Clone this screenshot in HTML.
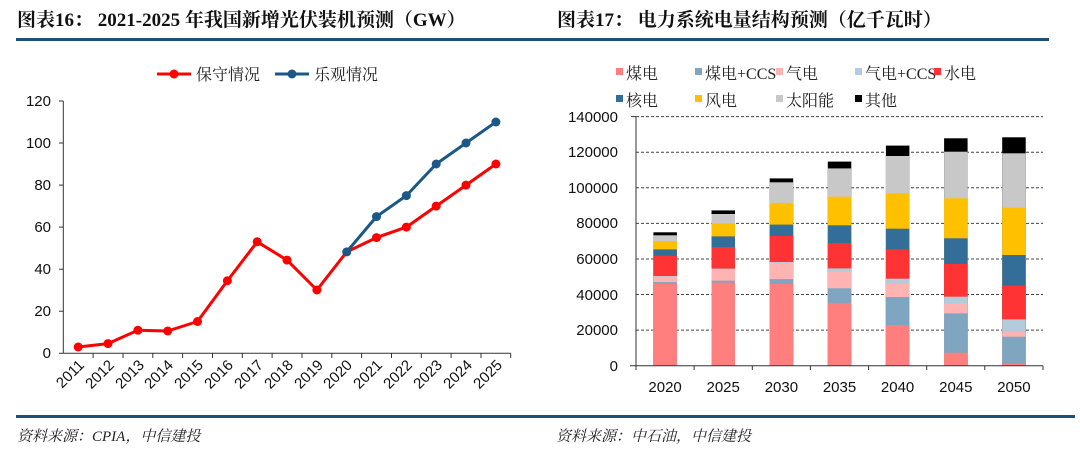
<!DOCTYPE html>
<html><head><meta charset="utf-8"><style>
body{margin:0;background:#fff;width:1080px;height:451px;overflow:hidden}
svg{display:block}
.t{font-family:"Liberation Serif","Noto Serif CJK SC",serif;font-weight:bold;font-size:19px;fill:#111}
.a{font-family:"Liberation Sans","Noto Sans CJK SC",sans-serif;font-size:15px;fill:#111}
.l{font-family:"Liberation Serif","Noto Serif CJK SC",serif;font-size:16px;fill:#222}
.f{font-family:"Liberation Serif","Noto Serif CJK SC",serif;font-style:italic;font-size:15px;fill:#222}
</style></head><body>
<svg width="1080" height="451" viewBox="0 0 1080 451">
<text class="t" x="17" y="26">图表16：  2021-2025 年我国新增光伏装机预测（GW）</text>
<text class="t" x="557" y="26">图表17：  电力系统电量结构预测（亿千瓦时）</text>
<rect x="16" y="38" width="524" height="3" fill="#1F4E79"/>
<rect x="540" y="38" width="509" height="3" fill="#1F4E79"/>
<rect x="16" y="415" width="1059" height="3" fill="#1F4E79"/>
<text class="f" x="17" y="441">资料来源：CPIA，中信建投</text>
<text class="f" x="556" y="441">资料来源：中石油，中信建投</text>

<line x1="157" y1="74" x2="191" y2="74" stroke="#f00" stroke-width="3"/><circle cx="174" cy="74" r="4.5" fill="#f00"/>
<text class="l" x="196" y="80">保守情况</text>
<line x1="275" y1="74" x2="309" y2="74" stroke="#1B5886" stroke-width="3"/><circle cx="292" cy="74" r="4.5" fill="#1B5886"/>
<text class="l" x="314" y="80">乐观情况</text>

<g stroke="#333" stroke-width="1">
<line x1="63.3" y1="101" x2="63.3" y2="353.3"/>
<line x1="59" y1="101" x2="63.3" y2="101"/><line x1="59" y1="143" x2="63.3" y2="143"/><line x1="59" y1="185.1" x2="63.3" y2="185.1"/><line x1="59" y1="227.1" x2="63.3" y2="227.1"/><line x1="59" y1="269.2" x2="63.3" y2="269.2"/><line x1="59" y1="311.2" x2="63.3" y2="311.2"/><line x1="59" y1="353.3" x2="63.3" y2="353.3"/>
<line x1="63.3" y1="353.3" x2="510.7" y2="353.3"/>
<line x1="93.1" y1="353.3" x2="93.1" y2="358"/><line x1="123" y1="353.3" x2="123" y2="358"/><line x1="152.8" y1="353.3" x2="152.8" y2="358"/><line x1="182.6" y1="353.3" x2="182.6" y2="358"/><line x1="212.5" y1="353.3" x2="212.5" y2="358"/><line x1="242.3" y1="353.3" x2="242.3" y2="358"/><line x1="272.1" y1="353.3" x2="272.1" y2="358"/><line x1="302" y1="353.3" x2="302" y2="358"/><line x1="331.8" y1="353.3" x2="331.8" y2="358"/><line x1="361.6" y1="353.3" x2="361.6" y2="358"/><line x1="391.5" y1="353.3" x2="391.5" y2="358"/><line x1="421.3" y1="353.3" x2="421.3" y2="358"/><line x1="451.1" y1="353.3" x2="451.1" y2="358"/><line x1="481" y1="353.3" x2="481" y2="358"/><line x1="510.7" y1="353.3" x2="510.7" y2="358"/>
</g>
<g class="a" text-anchor="end">
<text x="51" y="106">120</text><text x="51" y="148">100</text><text x="51" y="190">80</text><text x="51" y="232">60</text><text x="51" y="274">40</text><text x="51" y="316">20</text><text x="51" y="358">0</text>
</g>
<g class="a" text-anchor="end">
<text transform="translate(85,366) rotate(-45)">2011</text>
<text transform="translate(115,366) rotate(-45)">2012</text>
<text transform="translate(145,366) rotate(-45)">2013</text>
<text transform="translate(174,366) rotate(-45)">2014</text>
<text transform="translate(204,366) rotate(-45)">2015</text>
<text transform="translate(234,366) rotate(-45)">2016</text>
<text transform="translate(264,366) rotate(-45)">2017</text>
<text transform="translate(294,366) rotate(-45)">2018</text>
<text transform="translate(324,366) rotate(-45)">2019</text>
<text transform="translate(353,366) rotate(-45)">2020</text>
<text transform="translate(383,366) rotate(-45)">2021</text>
<text transform="translate(413,366) rotate(-45)">2022</text>
<text transform="translate(443,366) rotate(-45)">2023</text>
<text transform="translate(473,366) rotate(-45)">2024</text>
<text transform="translate(503,366) rotate(-45)">2025</text>
</g>
<polyline fill="none" stroke="#f00" stroke-width="3" stroke-linejoin="round" points="78.2,347 108,343.6 137.9,330.2 167.7,331 197.5,321.5 227.4,280.7 257.2,241.8 287,260.1 316.9,290 346.7,251.9 376.5,237.6 406.4,227.1 436.2,206.1 466,185.1 495.9,164"/>
<g fill="#f00"><circle cx="78.2" cy="347" r="4.5"/><circle cx="108" cy="343.6" r="4.5"/><circle cx="137.9" cy="330.2" r="4.5"/><circle cx="167.7" cy="331" r="4.5"/><circle cx="197.5" cy="321.5" r="4.5"/><circle cx="227.4" cy="280.7" r="4.5"/><circle cx="257.2" cy="241.8" r="4.5"/><circle cx="287" cy="260.1" r="4.5"/><circle cx="316.9" cy="290" r="4.5"/><circle cx="376.5" cy="237.6" r="4.5"/><circle cx="406.4" cy="227.1" r="4.5"/><circle cx="436.2" cy="206.1" r="4.5"/><circle cx="466" cy="185.1" r="4.5"/><circle cx="495.9" cy="164" r="4.5"/></g>
<polyline fill="none" stroke="#1B5886" stroke-width="3" stroke-linejoin="round" points="346.7,251.9 376.5,216.6 406.4,195.6 436.2,164 466,143 495.9,122"/>
<g fill="#1B5886"><circle cx="346.7" cy="251.9" r="4.5"/><circle cx="376.5" cy="216.6" r="4.5"/><circle cx="406.4" cy="195.6" r="4.5"/><circle cx="436.2" cy="164" r="4.5"/><circle cx="466" cy="143" r="4.5"/><circle cx="495.9" cy="122" r="4.5"/></g>

<g class="l">
<rect x="616" y="68" width="7" height="7" fill="#FF7F7F"/><text x="626" y="79">煤电</text>
<rect x="695" y="68" width="7" height="7" fill="#7FA5C0"/><text x="705" y="79">煤电+CCS</text>
<rect x="776" y="68" width="7" height="7" fill="#FFB3B3"/><text x="786" y="79">气电</text>
<rect x="855" y="68" width="7" height="7" fill="#B3CCDB"/><text x="865" y="79">气电+CCS</text>
<rect x="934" y="68" width="7" height="7" fill="#FF3333"/><text x="944" y="79">水电</text>
<rect x="616" y="95" width="7" height="7" fill="#336E99"/><text x="626" y="106">核电</text>
<rect x="695" y="95" width="7" height="7" fill="#FFC000"/><text x="705" y="106">风电</text>
<rect x="776" y="95" width="7" height="7" fill="#C8C8C8"/><text x="786" y="106">太阳能</text>
<rect x="855" y="95" width="7" height="7" fill="#000"/><text x="865" y="106">其他</text>
</g>
<g stroke="#444" stroke-width="1" stroke-dasharray="3,2">
<line x1="636" y1="116.6" x2="1043" y2="116.6"/><line x1="636" y1="152.2" x2="1043" y2="152.2"/><line x1="636" y1="187.8" x2="1043" y2="187.8"/><line x1="636" y1="223.4" x2="1043" y2="223.4"/><line x1="636" y1="259" x2="1043" y2="259"/><line x1="636" y1="294.5" x2="1043" y2="294.5"/><line x1="636" y1="330.1" x2="1043" y2="330.1"/>
</g>
<g class="a" text-anchor="end">
<text x="618" y="122">140000</text><text x="618" y="157">120000</text><text x="618" y="193">100000</text><text x="618" y="228">80000</text><text x="618" y="264">60000</text><text x="618" y="300">40000</text><text x="618" y="335">20000</text><text x="618" y="371">0</text>
</g>
<g>
<g transform="translate(653.4,0)">
<rect y="232.3" width="23.5" height="133.4" fill="#000"/><rect y="235.3" width="23.5" height="130.4" fill="#C8C8C8"/><rect y="241" width="23.5" height="124.7" fill="#FFC000"/><rect y="249.4" width="23.5" height="116.3" fill="#336E99"/><rect y="255.8" width="23.5" height="109.9" fill="#FF3333"/><rect y="276" width="23.5" height="89.7" fill="#B3CCDB"/><rect y="276.7" width="23.5" height="89" fill="#FFB3B3"/><rect y="282.1" width="23.5" height="83.6" fill="#7FA5C0"/><rect y="284" width="23.5" height="81.7" fill="#FF7F7F"/>
</g>
<g transform="translate(711.5,0)">
<rect y="210.4" width="23.5" height="155.3" fill="#000"/><rect y="214" width="23.5" height="151.7" fill="#C8C8C8"/><rect y="223.4" width="23.5" height="142.3" fill="#FFC000"/><rect y="236.4" width="23.5" height="129.3" fill="#336E99"/><rect y="247" width="23.5" height="118.7" fill="#FF3333"/><rect y="268.6" width="23.5" height="97.1" fill="#B3CCDB"/><rect y="269.1" width="23.5" height="96.6" fill="#FFB3B3"/><rect y="280.7" width="23.5" height="85" fill="#7FA5C0"/><rect y="282.6" width="23.5" height="83.1" fill="#FF7F7F"/>
</g>
<g transform="translate(769.7,0)">
<rect y="178.4" width="23.5" height="187.3" fill="#000"/><rect y="182.3" width="23.5" height="183.4" fill="#C8C8C8"/><rect y="202.9" width="23.5" height="162.8" fill="#FFC000"/><rect y="224.6" width="23.5" height="141.1" fill="#336E99"/><rect y="236" width="23.5" height="129.7" fill="#FF3333"/><rect y="262" width="23.5" height="103.7" fill="#B3CCDB"/><rect y="262.7" width="23.5" height="103" fill="#FFB3B3"/><rect y="279.1" width="23.5" height="86.6" fill="#7FA5C0"/><rect y="284" width="23.5" height="81.7" fill="#FF7F7F"/>
</g>
<g transform="translate(827.8,0)">
<rect y="161.6" width="23.5" height="204.1" fill="#000"/><rect y="168.4" width="23.5" height="197.3" fill="#C8C8C8"/><rect y="196.7" width="23.5" height="169" fill="#FFC000"/><rect y="225.3" width="23.5" height="140.4" fill="#336E99"/><rect y="243" width="23.5" height="122.7" fill="#FF3333"/><rect y="268.4" width="23.5" height="97.3" fill="#B3CCDB"/><rect y="271.9" width="23.5" height="93.8" fill="#FFB3B3"/><rect y="288.3" width="23.5" height="77.4" fill="#7FA5C0"/><rect y="303.4" width="23.5" height="62.3" fill="#FF7F7F"/>
</g>
<g transform="translate(885.9,0)">
<rect y="145.6" width="23.5" height="220.1" fill="#000"/><rect y="156" width="23.5" height="209.7" fill="#C8C8C8"/><rect y="193.3" width="23.5" height="172.4" fill="#FFC000"/><rect y="228.7" width="23.5" height="137" fill="#336E99"/><rect y="249.4" width="23.5" height="116.3" fill="#FF3333"/><rect y="278.7" width="23.5" height="87" fill="#B3CCDB"/><rect y="284" width="23.5" height="81.7" fill="#FFB3B3"/><rect y="297" width="23.5" height="68.7" fill="#7FA5C0"/><rect y="325" width="23.5" height="40.7" fill="#FF7F7F"/>
</g>
<g transform="translate(944.1,0)">
<rect y="138.3" width="23.5" height="227.4" fill="#000"/><rect y="151.7" width="23.5" height="214" fill="#C8C8C8"/><rect y="198.3" width="23.5" height="167.4" fill="#FFC000"/><rect y="238.3" width="23.5" height="127.4" fill="#336E99"/><rect y="263.9" width="23.5" height="101.8" fill="#FF3333"/><rect y="296.7" width="23.5" height="69" fill="#B3CCDB"/><rect y="303.4" width="23.5" height="62.3" fill="#FFB3B3"/><rect y="313.4" width="23.5" height="52.3" fill="#7FA5C0"/><rect y="352.7" width="23.5" height="13" fill="#FF7F7F"/>
</g>
<g transform="translate(1002.2,0)">
<rect y="137.3" width="23.5" height="228.4" fill="#000"/><rect y="153.3" width="23.5" height="212.4" fill="#C8C8C8"/><rect y="207.7" width="23.5" height="158" fill="#FFC000"/><rect y="255" width="23.5" height="110.7" fill="#336E99"/><rect y="285.6" width="23.5" height="80.1" fill="#FF3333"/><rect y="319.4" width="23.5" height="46.3" fill="#B3CCDB"/><rect y="331.7" width="23.5" height="34" fill="#FFB3B3"/><rect y="336.7" width="23.5" height="29" fill="#7FA5C0"/><rect y="363.7" width="23.5" height="2" fill="#FF7F7F"/>
</g>
</g>
<g stroke="#333" stroke-width="1">
<line x1="636" y1="116.6" x2="636" y2="365.7"/>
<line x1="631" y1="116.6" x2="636" y2="116.6"/>
<line x1="630" y1="365.7" x2="1043" y2="365.7"/>
<line x1="636" y1="365.7" x2="636" y2="370"/><line x1="694.1" y1="365.7" x2="694.1" y2="370"/><line x1="752.3" y1="365.7" x2="752.3" y2="370"/><line x1="810.4" y1="365.7" x2="810.4" y2="370"/><line x1="868.6" y1="365.7" x2="868.6" y2="370"/><line x1="926.7" y1="365.7" x2="926.7" y2="370"/><line x1="984.8" y1="365.7" x2="984.8" y2="370"/><line x1="1043" y1="365.7" x2="1043" y2="370"/>
</g>
<g class="a" text-anchor="middle">
<text x="665.1" y="392">2020</text><text x="723.2" y="392">2025</text><text x="781.4" y="392">2030</text><text x="839.5" y="392">2035</text><text x="897.6" y="392">2040</text><text x="955.8" y="392">2045</text><text x="1013.9" y="392">2050</text>
</g>
</svg>
</body></html>
